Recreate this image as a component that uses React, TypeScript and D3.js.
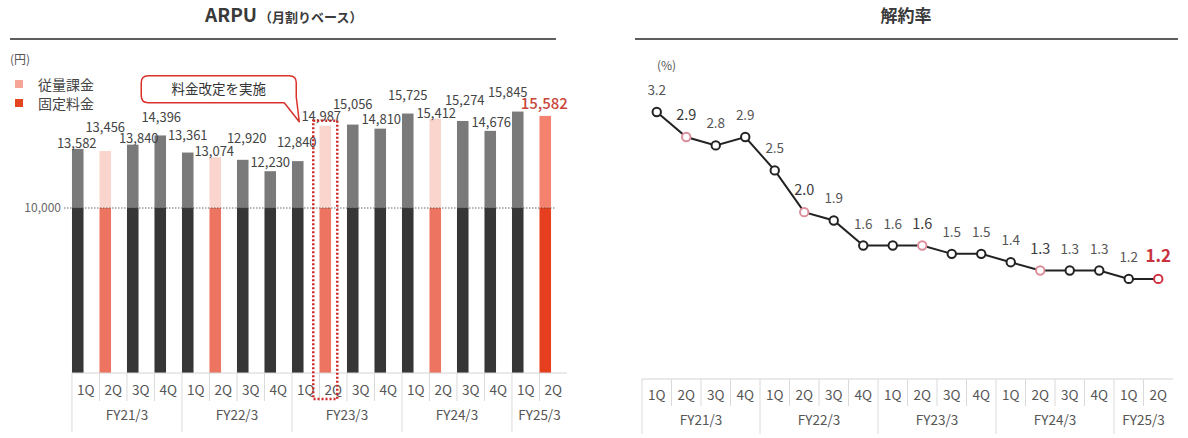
import React from 'react';
import * as d3 from 'd3';

// ---- data ----
const quarters = ['1Q', '2Q', '3Q', '4Q', '1Q', '2Q', '3Q', '4Q', '1Q', '2Q', '3Q', '4Q', '1Q', '2Q', '3Q', '4Q', '1Q', '2Q'];
const fiscalYears = ['FY21/3', 'FY22/3', 'FY23/3', 'FY24/3', 'FY25/3'];
const quartersPerYear = [4, 4, 4, 4, 2];
// ARPU (yen / month)
const arpu = [13582, 13456, 13840, 14396, 13361, 13074, 12920, 12230, 12840, 14987, 15056, 14810, 15725, 15412, 15274, 14676, 15845, 15582];
// fixed-fee level; the rest of each bar is usage-based
const fixedFeeLevel = 10000;
const yTicks = [10000];
// churn rate (%)
const churn = [3.2, 2.9, 2.8, 2.9, 2.5, 2.0, 1.9, 1.6, 1.6, 1.6, 1.5, 1.5, 1.4, 1.3, 1.3, 1.3, 1.2, 1.2];
const priceRevisionIndex = 9;

// label nudges [dx, gap above bar top] to keep neighbouring labels apart
const arpuLabelNudge: [number, number][] = [
  [-1, 0], [0, 18], [6, 1], [1, 12], [0, 12], [-1, 0], [4, 16], [0, 3], [-1, 13],
  [-4, 4], [0, 15], [1, 4], [0, 13], [1, 0], [2, 15], [1, 3], [-10, 14], [-1, 6],
];

const FONT = '"Noto Sans CJK JP", "Noto Sans", sans-serif';
const W = 1188;
const H = 438;
const last = arpu.length - 1;

type Palette = { fixed: string; usage: string };
const regular: Palette = { fixed: '#363636', usage: '#7a7a7a' };
const secondQ: Palette = { fixed: '#ee7462', usage: '#fad5cd' };
const latest: Palette = { fixed: '#e63f1f', usage: '#f4826e' };

function paletteFor(i: number): Palette {
  if (i === last) return latest;
  if (quarters[i] === '2Q') return secondQ;
  return regular;
}

function PeriodAxis({ x, top, qBase, fyBase, qBottom, fyBottom }: {
  x: d3.ScaleBand<number>; top: number; qBase: number; fyBase: number; qBottom: number; fyBottom: number;
}) {
  const idx = quarters.map((_, i) => i);
  const step = x.step();
  const x0 = x(0)!;
  const xEnd = x(last)! + step;
  const groups: { label: string; start: number; end: number }[] = [];
  let s = 0;
  fiscalYears.forEach((fy, k) => {
    groups.push({ label: fy, start: s, end: s + quartersPerYear[k] });
    s += quartersPerYear[k];
  });
  const groupStarts = new Set(groups.map((g) => g.start));
  return (
    <g fontFamily={FONT} fill="#555">
      <line x1={x0} x2={xEnd} y1={top} y2={top} stroke="#d4d4d4" strokeWidth={1} />
      {idx.map((i) => (
        <line key={'sep' + i} x1={x(i)!} x2={x(i)!} y1={top} y2={groupStarts.has(i) ? fyBottom : qBottom}
          stroke="#dadada" strokeWidth={1} />
      ))}
      {idx.map((i) => (
        <text key={'q' + i} x={x(i)! + step / 2} y={qBase} textAnchor="middle" fontSize={13.5}>{quarters[i]}</text>
      ))}
      {groups.map((g) => (
        <text key={g.label} x={(x(g.start)! + x(g.end - 1)! + step) / 2} y={fyBase} textAnchor="middle" fontSize={13.5}>
          {g.label}
        </text>
      ))}
    </g>
  );
}

function ArpuChart() {
  const idx = arpu.map((_, i) => i);
  const x = d3.scaleBand<number>().domain(idx).range([64, 559]).paddingInner(0.58).paddingOuter(0.29);
  const y = d3.scaleLinear().domain([0, fixedFeeLevel]).range([373, 208]);
  const bw = x.bandwidth();
  const cx = (i: number) => x(i)! + bw / 2;

  const hlCx = cx(priceRevisionIndex);
  const hlTop = y(arpu[priceRevisionIndex]) - 5;
  const hl = { x: hlCx - 12, y: hlTop, w: 24, h: 399 - hlTop };

  // callout anchored at the highlighted quarter
  const tipX = hl.x - 14;
  const tipY = hl.y + 1;
  const bR = tipX - 3;
  const bL = bR - 155;
  const bB = tipY - 19;
  const bT = bB - 27;
  const r = 7;
  const callout = [
    `M${bL + r},${bT}`,
    `H${bR - r}`,
    `Q${bR},${bT} ${bR},${bT + r}`,
    `V${bB - 6}`,
    `L${tipX},${tipY}`,
    `L${bR - 12},${bB}`,
    `H${bL + r}`,
    `Q${bL},${bB} ${bL},${bB - r}`,
    `V${bT + r}`,
    `Q${bL},${bT} ${bL + r},${bT}`,
    'Z',
  ].join(' ');

  return (
    <g>
      {/* title */}
      <text x={205} y={22} fontFamily={FONT} fontSize={19} fontWeight={700} fill="#3a3a3a">
        ARPU<tspan fontSize={13} fontWeight={600} dx={2}>（月割りベース）</tspan>
      </text>
      <line x1={10} x2={556} y1={39} y2={39} stroke="#5e5e5e" strokeWidth={1.8} />

      <text x={10} y={64} fontFamily={FONT} fontSize={12} fill="#555">(円)</text>
      {/* legend */}
      <rect x={15} y={80} width={8} height={8} fill="#f6a696" />
      <text x={38} y={90} fontFamily={FONT} fontSize={14} fill="#444">従量課金</text>
      <rect x={15} y={99} width={8} height={8} fill="#e2451f" />
      <text x={38} y={109} fontFamily={FONT} fontSize={14} fill="#444">固定料金</text>

      {/* bars: fixed part + usage part */}
      {idx.map((i) => {
        const p = paletteFor(i);
        return (
          <g key={'b' + i}>
            <rect x={x(i)!} y={y(fixedFeeLevel)} width={bw} height={y(0) - y(fixedFeeLevel)} fill={p.fixed} />
            <rect x={x(i)!} y={y(arpu[i])} width={bw} height={y(fixedFeeLevel) - y(arpu[i])} fill={p.usage} />
          </g>
        );
      })}

      {/* y tick + reference line */}
      {yTicks.map((t) => (
        <g key={'t' + t}>
          <line x1={64} x2={556} y1={y(t)} y2={y(t)} stroke="#444" strokeWidth={0.8} strokeDasharray="1.5 1.5" />
          <text x={61} y={y(t) + 4} textAnchor="end" fontFamily={FONT} fontSize={12} fill="#666">
            {d3.format(',')(t)}
          </text>
        </g>
      ))}

      {/* value labels */}
      {idx.map((i) => {
        const [dx, gap] = arpuLabelNudge[i];
        const isLast = i === last;
        return (
          <text key={'l' + i} x={cx(i) + dx} y={y(arpu[i]) - gap - 1} textAnchor="middle" fontFamily={FONT}
            fontSize={isLast ? 15 : 13} fontWeight={isLast ? 500 : 400} fill={isLast ? '#c9463a' : '#444'}>
            {d3.format(',')(arpu[i])}
          </text>
        );
      })}

      <PeriodAxis x={x} top={373} qBase={395} fyBase={420} qBottom={401} fyBottom={432} />

      {/* price revision highlight */}
      <rect x={hl.x} y={hl.y} width={hl.w} height={hl.h} fill="none" stroke="#cc2b2b" strokeWidth={2.5}
        strokeDasharray="2 2" />
      <path d={callout} fill="#fff" stroke="#d8322b" strokeWidth={1.5} strokeLinejoin="round" />
      <text x={(bL + bR) / 2} y={(bT + bB) / 2 + 5} textAnchor="middle" fontFamily={FONT} fontSize={13.5} fill="#333">
        料金改定を実施
      </text>
    </g>
  );
}

function ChurnChart() {
  const idx = churn.map((_, i) => i);
  const x = d3.scaleBand<number>().domain(idx).range([642, 1173]);
  const y = d3.scaleLinear().domain([0, 3.2]).range([379, 112]);
  const cx = (i: number) => x(i)! + x.bandwidth() / 2;
  const line = d3.line<number>().x((d, i) => cx(i)).y((d) => y(d));

  const strokeFor = (i: number) => (i === last ? '#d0303f' : quarters[i] === '2Q' ? '#dc8e9b' : '#222');

  return (
    <g>
      <text x={906} y={22} textAnchor="middle" fontFamily={FONT} fontSize={17} fontWeight={600} fill="#3a3a3a">解約率</text>
      <line x1={635} x2={1178} y1={39} y2={39} stroke="#5e5e5e" strokeWidth={1.8} />
      <text x={657} y={70} fontFamily={FONT} fontSize={12} fill="#555">(%)</text>

      <path d={line(churn)!} fill="none" stroke="#222" strokeWidth={2} />
      {idx.map((i) => (
        <circle key={'c' + i} cx={cx(i)} cy={y(churn[i])} r={4.2} fill="#fff" stroke={strokeFor(i)} strokeWidth={2} />
      ))}
      {idx.map((i) => {
        const isLast = i === last;
        const is2Q = quarters[i] === '2Q' && !isLast;
        return (
          <text key={'cl' + i} x={cx(i)} y={y(churn[i]) - 17} textAnchor="middle" fontFamily={FONT}
            fontSize={isLast ? 17 : is2Q ? 14.5 : 13.5} fontWeight={isLast ? 700 : 400}
            fill={isLast ? '#c8323e' : is2Q ? '#3a3a3a' : '#555'}>
            {d3.format('.1f')(churn[i])}
          </text>
        );
      })}

      <PeriodAxis x={x} top={379} qBase={400} fyBase={425} qBottom={406} fyBottom={434} />
    </g>
  );
}

export default function App() {
  return (
    <svg width={W} height={H} viewBox={`0 0 ${W} ${H}`}
      style={{ position: 'absolute', left: 0, top: 0, background: '#fff', display: 'block' }}>
      <rect width={W} height={H} fill="#fff" />
      <ArpuChart />
      <ChurnChart />
    </svg>
  );
}
